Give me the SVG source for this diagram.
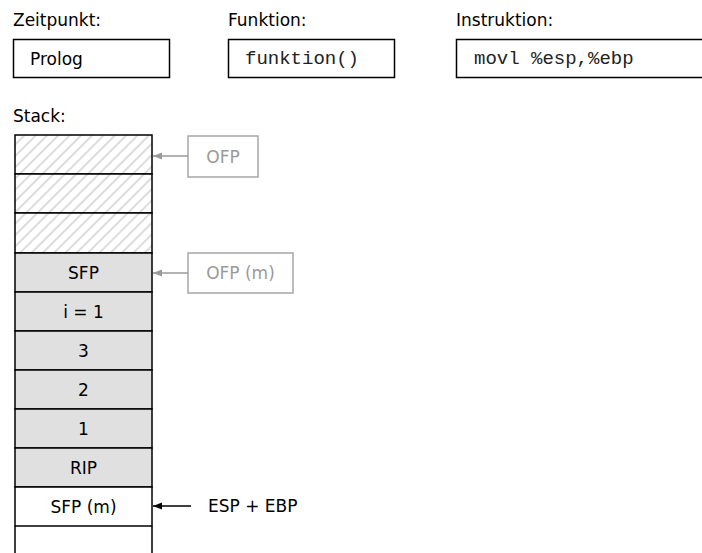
<svg xmlns="http://www.w3.org/2000/svg" width="702" height="553" viewBox="0 0 702 553">
  <defs>
    <pattern id="hatch" patternUnits="userSpaceOnUse" width="8" height="8" patternTransform="rotate(45)">
      <rect width="8" height="8" fill="#ffffff"/>
      <line x1="0" y1="0" x2="0" y2="8" stroke="#dcdcdc" stroke-width="4"/>
    </pattern>
    <marker id="arrowGray" markerWidth="10" markerHeight="8" refX="9" refY="4" orient="auto" markerUnits="userSpaceOnUse">
      <path d="M0,0.5 L9,4 L0,7.5 Z" fill="#9a9a9a"/>
    </marker>
    <marker id="arrowBlack" markerWidth="10" markerHeight="8" refX="9" refY="4" orient="auto" markerUnits="userSpaceOnUse">
      <path d="M0,0.5 L9,4 L0,7.5 Z" fill="#000000"/>
    </marker>
  </defs>
  <style>
    .lbl { font-family: "DejaVu Sans", Verdana, sans-serif; font-size: 17px; fill: #000; }
    .mono { font-family: "Liberation Mono", "Courier New", monospace; font-size: 19px; fill: #222; }
    .box { fill: #fff; stroke: #000; stroke-width: 1.5; }
    .cell { stroke: #000; stroke-width: 1.5; }
    .used { fill: #e0e0e0; }
    .free { fill: url(#hatch); }
    .blank { fill: #fff; }
    .ghost { fill: #fff; stroke: #a6a6a6; stroke-width: 1.5; }
    .ghostText { font-family: "DejaVu Sans", Verdana, sans-serif; font-size: 17px; fill: #9a9a9a; }
    .mid { text-anchor: middle; dominant-baseline: central; }
  </style>
  <rect width="702" height="553" fill="#fff"/>

  <!-- header fields -->
  <g id="zeitpunkt">
    <text class="lbl" x="13" y="26">Zeitpunkt:</text>
    <rect class="box" x="13.5" y="39.5" width="156" height="38"/>
    <text class="lbl" x="30" y="59" dominant-baseline="central">Prolog</text>
  </g>
  <g id="funktion">
    <text class="lbl" x="228" y="26">Funktion:</text>
    <rect class="box" x="228.5" y="39.5" width="166" height="38"/>
    <text class="mono" x="245" y="59" dominant-baseline="central">funktion()</text>
  </g>
  <g id="instruktion">
    <text class="lbl" x="456" y="26">Instruktion:</text>
    <rect class="box" x="456.5" y="39.5" width="250" height="38"/>
    <text class="mono" x="474" y="59" dominant-baseline="central">movl %esp,%ebp</text>
  </g>

  <!-- stack -->
  <text class="lbl" x="13" y="122">Stack:</text>
  <g id="stack">
    <rect class="cell free" x="15" y="135" width="137" height="39"/>
    <rect class="cell free" x="15" y="174" width="137" height="39"/>
    <rect class="cell free" x="15" y="213" width="137" height="40"/>
    <g id="cell-sfp">
      <rect class="cell used" x="15" y="253" width="137" height="39"/>
      <text class="lbl mid" x="83.5" y="272.5">SFP</text>
    </g>
    <g id="cell-i">
      <rect class="cell used" x="15" y="292" width="137" height="39"/>
      <text class="lbl mid" x="83.5" y="311.5">i = 1</text>
    </g>
    <g id="cell-3">
      <rect class="cell used" x="15" y="331" width="137" height="39"/>
      <text class="lbl mid" x="83.5" y="350.5">3</text>
    </g>
    <g id="cell-2">
      <rect class="cell used" x="15" y="370" width="137" height="39"/>
      <text class="lbl mid" x="83.5" y="389.5">2</text>
    </g>
    <g id="cell-1">
      <rect class="cell used" x="15" y="409" width="137" height="39"/>
      <text class="lbl mid" x="83.5" y="428.5">1</text>
    </g>
    <g id="cell-rip">
      <rect class="cell used" x="15" y="448" width="137" height="39"/>
      <text class="lbl mid" x="83.5" y="467.5">RIP</text>
    </g>
    <g id="cell-sfpm">
      <rect class="cell blank" x="15" y="487" width="137" height="39"/>
      <text class="lbl mid" x="83.5" y="506.5">SFP (m)</text>
    </g>
    <path d="M15,526 V560 M152,526 V560" stroke="#000" stroke-width="1.5" fill="none"/>
  </g>

  <!-- pointer labels -->
  <g id="ofp">
    <rect class="ghost" x="188" y="136" width="70" height="41"/>
    <text class="ghostText mid" x="223" y="156.5">OFP</text>
  </g>
  <g id="ofp-m">
    <rect class="ghost" x="188" y="253" width="105" height="40"/>
    <text class="ghostText mid" x="240.5" y="273">OFP (m)</text>
  </g>
  <g id="esp-ebp">
    <text class="lbl" x="208" y="506" dominant-baseline="central">ESP + EBP</text>
  </g>

  <g id="connectors" fill="none">
    <line x1="188" y1="156" x2="153" y2="156" stroke="#9a9a9a" stroke-width="1.5" marker-end="url(#arrowGray)"/>
    <line x1="188" y1="273" x2="153" y2="273" stroke="#9a9a9a" stroke-width="1.5" marker-end="url(#arrowGray)"/>
    <line x1="191" y1="506" x2="153" y2="506" stroke="#000" stroke-width="1.5" marker-end="url(#arrowBlack)"/>
  </g>
</svg>
